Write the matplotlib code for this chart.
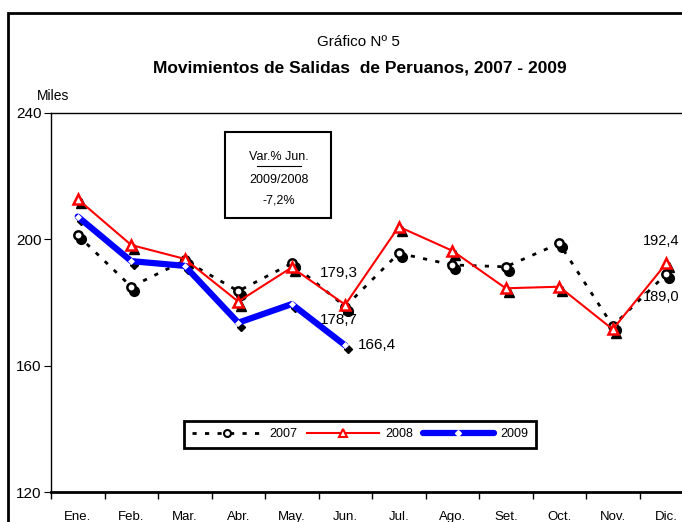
import numpy as np
import matplotlib
matplotlib.use('Agg')
import matplotlib.pyplot as plt
from matplotlib.lines import Line2D
from matplotlib.patches import Rectangle
import matplotlib.transforms as mtransforms

# Data (miles de salidas)
meses = ['Ene.', 'Feb.', 'Mar.', 'Abr.', 'May.', 'Jun.', 'Jul.', 'Ago.', 'Set.', 'Oct.', 'Nov.', 'Dic.']
v2007 = [201.3, 185.0, 193.3, 183.6, 192.4, 178.7, 195.6, 191.9, 191.3, 198.7, 172.6, 189.0]
v2008 = [212.7, 198.2, 193.8, 180.3, 191.1, 179.3, 204.0, 196.4, 184.5, 185.0, 171.5, 192.4]
v2009 = [207.2, 193.1, 191.6, 173.6, 179.5, 166.4]

plt.rcParams['font.family'] = ['Liberation Sans', 'DejaVu Sans']

fig = plt.figure(figsize=(6.82, 5.22), dpi=100)
ax = fig.add_axes([51/682, 30/522, 642/682, 379/522])

x = np.arange(len(meses))
x9 = np.arange(len(v2009))

# sombras de los marcadores (efecto Excel)
shadow = mtransforms.offset_copy(ax.transData, fig=fig, x=3, y=-4, units='dots')
ax.plot(x, v2007, ls='none', marker='o', ms=7, color='black', transform=shadow, zorder=2)
ax.plot(x, v2008, ls='none', marker='^', ms=7, color='black', transform=shadow, zorder=2)
ax.plot(x9, v2009, ls='none', marker='D', ms=4, color='black', transform=shadow, zorder=2)

l07, = ax.plot(x, v2007, color='black', lw=2, ls=(0, (1.5, 3)), marker='o', ms=6,
               mfc='white', mec='black', mew=1.8, zorder=3)
l08, = ax.plot(x, v2008, color='red', lw=1.5, marker='^', ms=7,
               mfc='white', mec='red', mew=1.8, zorder=4)
l09, = ax.plot(x9, v2009, color='blue', lw=4.5, marker='D', ms=3,
               mfc='white', mec='white', mew=0.5, zorder=5, solid_capstyle='round')

# etiquetas de datos
lab = dict(fontsize=11, color='black')
ax.text(x[5] - 0.48, v2008[5] + 10.0, '179,3', ha='left', va='center', **lab)
ax.text(x[5] - 0.48, v2007[5] - 4.3, '178,7', ha='left', va='center', **lab)
ax.text(x9[5] + 0.23, v2009[5] + 0.3, '166,4', ha='left', va='center', **lab)
ax.text(x[11] - 0.43, v2008[11] + 7.1, '192,4', ha='left', va='center', fontsize=10.5)
ax.text(x[11] - 0.43, v2007[11] - 7.3, '189,0', ha='left', va='center', fontsize=10.5)

ax.set_ylim(120, 240)
ax.set_yticks([120, 160, 200, 240])
ax.set_xlim(-0.5, len(meses) - 0.5)
ax.set_xticks(x)
ax.set_xticklabels(meses, fontsize=9.5)
ax.set_xticks(np.arange(len(meses) + 1) - 0.5, minor=True)
ax.tick_params(axis='x', which='major', length=0, pad=14)
ax.tick_params(axis='x', which='minor', length=5, direction='out', width=1)
ax.tick_params(axis='y', length=5, direction='out', labelsize=11, pad=2)
for s in ['left', 'top', 'right']:
    ax.spines[s].set_linewidth(1)
ax.spines['bottom'].set_linewidth(2)

# titulos
fig.text(358/682, 1 - 42/522, 'Gráfico Nº 5', ha='center', va='center', fontsize=11)
fig.text(360/682, 1 - 68/522, 'Movimientos de Salidas  de Peruanos, 2007 - 2009',
         ha='center', va='center', fontsize=12.5, fontweight='bold')
fig.text(37/682, 1 - 96/522, 'Miles', ha='left', va='center', fontsize=10)

# cuadro de variacion
fig.patches.append(Rectangle((225/682, 1 - 218/522), 106/682, 86/522, transform=fig.transFigure,
                             fill=False, ec='black', lw=1.5))
fig.text(279/682, 1 - 157/522, 'Var.% Jun.', ha='center', va='center', fontsize=9)
fig.lines.append(Line2D([257/682, 301/682], [1 - 166/522, 1 - 166/522], transform=fig.transFigure,
                        color='black', lw=0.8))
fig.text(279/682, 1 - 180/522, '2009/2008', ha='center', va='center', fontsize=9)
fig.text(279/682, 1 - 201/522, '-7,2%', ha='center', va='center', fontsize=9)

# leyenda
h07 = Line2D([], [], color='black', lw=2, ls=(0, (1.5, 3)), marker='o', ms=5, mfc='white', mec='black', mew=1.5)
h08 = Line2D([], [], color='red', lw=1.5, marker='^', ms=6, mfc='white', mec='red', mew=1.5)
h09 = Line2D([], [], color='blue', lw=4.5, marker='D', ms=3, mfc='white', mec='white', solid_capstyle='round')
leg = fig.legend([h07, h08, h09], ['2007', '2008', '2009'], loc='center', ncol=3,
                 bbox_to_anchor=(360/682, 1 - 434/522), fontsize=9, handlelength=5.7,
                 columnspacing=0.8, handletextpad=0.5, fancybox=False, framealpha=1,
                 borderpad=0.6, markerscale=1)
leg.get_frame().set_edgecolor('black')
leg.get_frame().set_linewidth(2)

# marco exterior
fig.patches.append(Rectangle((8/682, -0.1), 1.2, 1 - 13/522 + 0.1, transform=fig.transFigure,
                             fill=False, ec='black', lw=2))

fig.savefig('out.png', dpi=100)
